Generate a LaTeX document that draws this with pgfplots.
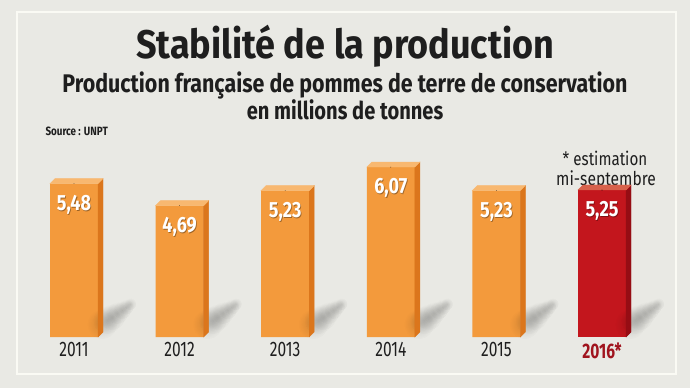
\documentclass[border=0pt]{standalone}
\usepackage{pgfplots}
\pgfplotsset{compat=1.18}
\usetikzlibrary{fadings}
\usepackage{fontspec}
\setmainfont{Fira Sans}[FakeStretch=0.82]
\newfontfamily\yearfont{Fira Sans}[FakeStretch=0.74]
\newfontfamily\titlefont{Fira Sans}[FakeStretch=0.90]
\newfontfamily\subfont{Fira Sans}[FakeStretch=0.84]
\definecolor{bg}{HTML}{E9E9E4}
\definecolor{frame}{HTML}{FAFAF4}
\definecolor{orF}{HTML}{F39A3C}
\definecolor{orS}{HTML}{DB761C}
\definecolor{orT}{HTML}{F8B870}
\definecolor{reF}{HTML}{C3161D}
\definecolor{reS}{HTML}{960D14}
\definecolor{reT}{HTML}{D8624C}
\definecolor{yr}{HTML}{A0141E}
\definecolor{txt}{HTML}{1E1E1E}
\tikzfading[name=softfade, inner color=transparent!0, outer color=transparent!100]
\pgfplotsset{
  box3d/.style 2 args={scatter, only marks, mark=*, mark size=0.01pt,
    visualization depends on={y \as \yv},
    scatter/@pre marker code/.code={%
      \fill[#1] (24pt,0pt) -- ++(5pt,5pt) -- ++(axis direction cs:0,-\yv) -- ++(-5pt,-5pt) -- cycle;
      \fill[#2] (-24pt,0pt) -- ++(5pt,5pt) -- ++(48pt,0pt) -- ++(-5pt,-5pt) -- cycle;
    },
    scatter/@post marker code/.code={}},
  shadow3d/.style={scatter, only marks, mark=*, mark size=0.01pt,
    visualization depends on={y \as \yv},
    scatter/@pre marker code/.code={%
      \path (axis direction cs:0,-\yv) coordinate (b);
      \foreach \dx/\dy/\r in {28/13/15, 33/17/14, 38/20/13, 43/24/11, 48/27/9, 52/30/7.5, 56/33/6}{
        \fill[black, opacity=0.13, path fading=softfade] ([shift={(\dx pt,\dy pt)}]b) circle (\r pt);
      }
    },
    scatter/@post marker code/.code={}},
  vallabel/.style={nodes near coords={\pgfmathprintnumber[use comma,fixed,fixed zerofill,precision=2,assume math mode=true]{\pgfplotspointmeta}},
    nodes near coords align={below}},
}
\begin{document}
\begin{tikzpicture}[x=1pt,y=1pt]
\fill[bg] (0,0) rectangle (690,388);
\draw[frame, line width=2pt] (17,14) rectangle (676,376);
\node[anchor=base, text=txt, font=\fontsize{40}{40}\selectfont\titlefont\bfseries] at (345,329) {Stabilité de la production};
\node[anchor=base, text=txt, font=\fontsize{25.5}{25.5}\selectfont\subfont\bfseries] at (345,295) {Production française de pommes de terre de conservation};
\node[anchor=base, text=txt, font=\fontsize{24.5}{24.5}\selectfont\bfseries] at (345,268) {en millions de tonnes};
\node[anchor=base west, text=txt, font=\fontsize{12}{12}\selectfont\bfseries] at (42,252) {Source : UNPT};
\node[anchor=base, text=txt, font=\fontsize{18.5}{18.5}\selectfont] at (605,222) {* estimation};
\node[anchor=base, text=txt, font=\fontsize{19}{19}\selectfont] at (606,202) {mi-septembre};
\begin{axis}[
  at={(21.2pt,51pt)}, anchor=south west,
  scale only axis, width=633.6pt, height=196pt,
  xmin=-0.5, xmax=5.5, ymin=0, ymax=7,
  clip=false,
  axis line style={draw=none},
  xtick={0,1,2,3,4,5},
  xticklabels={2011,2012,2013,2014,2015,{\color{yr}\bfseries 2016*}},
  xtick style={draw=none},
  ytick=\empty,
  xticklabel style={font=\fontsize{21}{21}\selectfont\yearfont, text=txt, yshift=-2pt},
]
\addplot[shadow3d] coordinates {(0,5.48)(1,4.69)(2,5.23)(3,6.07)(4,5.23)(5,5.25)};
\addplot[ybar, bar width=48pt, bar shift=0pt, fill=orF, draw=none] coordinates {(0,5.48)(1,4.69)(2,5.23)(3,6.07)(4,5.23)};
\addplot[ybar, bar width=48pt, bar shift=0pt, fill=reF, draw=none] coordinates {(5,5.25)};
\addplot[box3d={orS}{orT}] coordinates {(0,5.48)(1,4.69)(2,5.23)(3,6.07)(4,5.23)};
\addplot[box3d={reS}{reT}] coordinates {(5,5.25)};
% label shadows
\addplot[ybar, bar width=48pt, bar shift=0pt, draw=none, fill=none, vallabel,
  every node near coord/.append style={text=black, text opacity=0.35, font=\fontsize{22}{22}\selectfont\bfseries, yshift=-8.8pt, xshift=0.8pt}]
  coordinates {(0,5.48)(1,4.69)(2,5.23)(3,6.07)(4,5.23)(5,5.25)};
% labels
\addplot[ybar, bar width=48pt, bar shift=0pt, draw=none, fill=none, vallabel,
  every node near coord/.append style={text=white, font=\fontsize{22}{22}\selectfont\bfseries, yshift=-8pt}]
  coordinates {(0,5.48)(1,4.69)(2,5.23)(3,6.07)(4,5.23)(5,5.25)};
\end{axis}
\end{tikzpicture}
\end{document}
